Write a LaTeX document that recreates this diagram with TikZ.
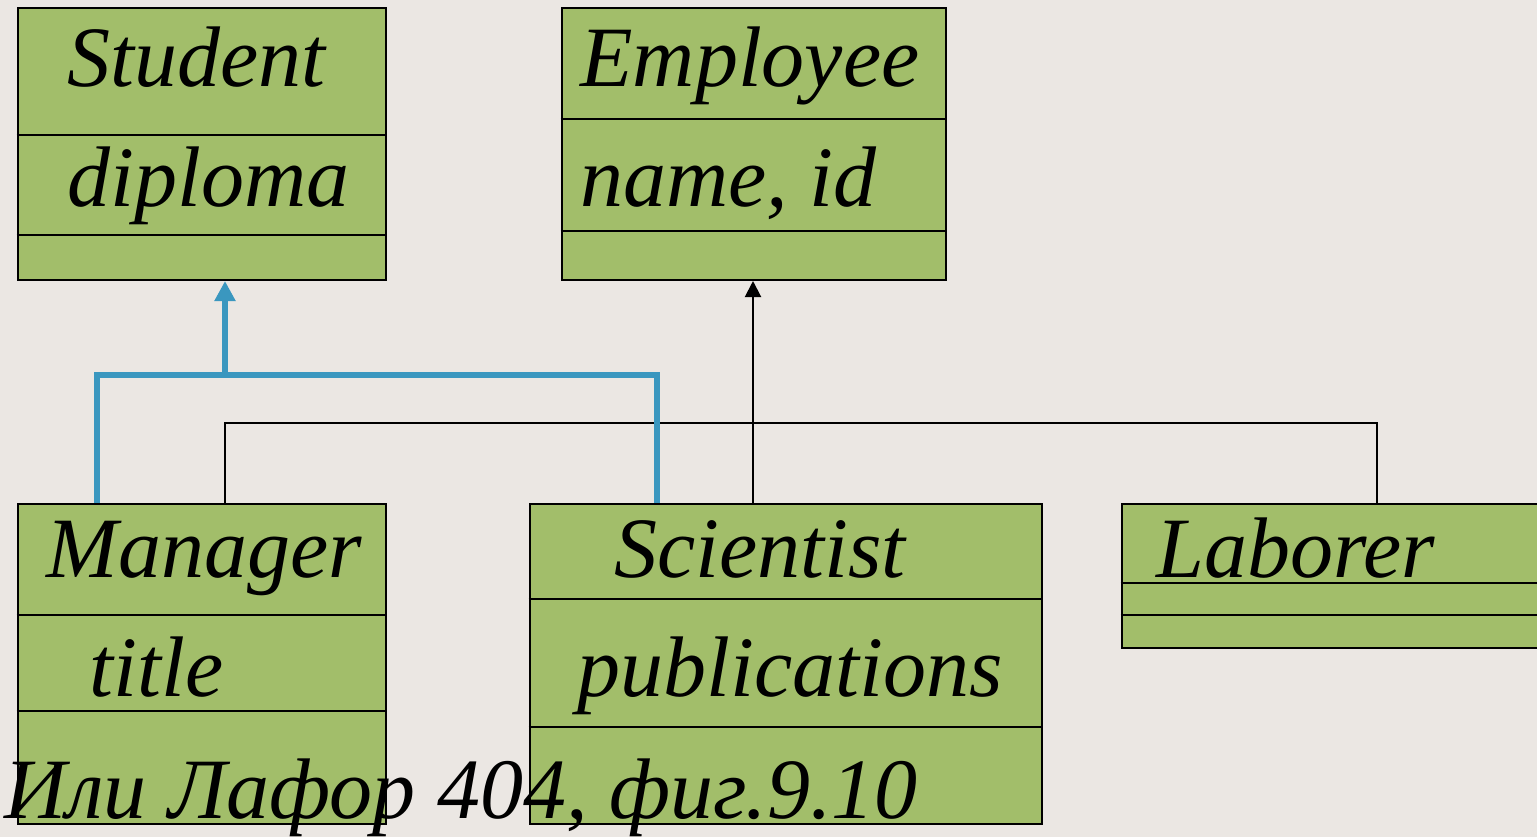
\documentclass[tikz,border=0pt]{standalone}
\usepackage{fontspec}
\setmainfont{Liberation Serif}
\usepackage{xcolor}
\usetikzlibrary{arrows.meta, positioning}

\definecolor{bgcol}{RGB}{235,231,227}
\definecolor{boxgreen}{RGB}{162,190,106}
\definecolor{linkblue}{RGB}{58,151,191}

\tikzset{
  classbox/.style={draw=black, line width=1pt, fill=boxgreen, anchor=north west, inner sep=0pt},
  classtext/.style={anchor=base west, inner sep=0pt, font=\fontsize{43}{50}\selectfont\itshape},
  divider/.style={draw=black, line width=1pt},
  genlink/.style={draw=black, line width=1pt},
  bluelink/.style={draw=linkblue, line width=2.7pt}
}

\begin{document}
\begin{tikzpicture}[x=0.5pt, y=-0.5pt]
  % Background
  \fill[bgcol] (0,0) rectangle (1537,837);
  \useasboundingbox (0,0) rectangle (1537,837);

  % Top classes
  \node[classbox, minimum width=184pt, minimum height=136pt] (student) at (16.5,7) {};
  \draw[divider] (16.5,135) -- (384.5,135);
  \draw[divider] (16.5,235) -- (384.5,235);
  \node[classtext] (studentname) at (67,86) {Student};
  \node[classtext] (studentattr) at (67,206) {diploma};

  \node[classbox, minimum width=192pt, minimum height=136pt] (employee) at (560.5,7) {};
  \draw[divider] (560.5,119) -- (944.5,119);
  \draw[divider] (560.5,231) -- (944.5,231);
  \node[classtext] (employeename) at (580,86) {Employee};
  \node[classtext] (employeeattr) at (580,206) {name, id};

  % Bottom classes
  \node[classbox, minimum width=184pt, minimum height=160pt] (manager) at (16.5,503) {};
  \draw[divider] (16.5,615) -- (384.5,615);
  \draw[divider] (16.5,711) -- (384.5,711);
  \node[classtext] (managername) at (46,577) {Manager};
  \node[classtext] (managerattr) at (89,696) {title};

  \node[classbox, minimum width=256pt, minimum height=160pt] (scientist) at (528.5,503) {};
  \draw[divider] (528.5,599) -- (1040.5,599);
  \draw[divider] (528.5,727) -- (1040.5,727);
  \node[classtext] (scientistname) at (614,577) {Scientist};
  \node[classtext] (scientistattr) at (577,696) {publications};

  \node[classbox, minimum width=208pt, minimum height=72pt] (laborer) at (1120.5,503) {};
  \draw[divider] (1120.5,583) -- (1536.5,583);
  \draw[divider] (1120.5,615) -- (1536.5,615);
  \node[classtext] (laborername) at (1156,577) {Laborer};

  % Generalisation to Employee
  \coordinate (jleft) at (225,423);
  \coordinate (jright) at (1377,423);
  \coordinate (jemp) at (753,423);
  \draw[genlink] (jleft |- manager.north) -- (jleft) -- (jright) -- (jright |- laborer.north);
  \draw[genlink, -{Triangle[length=8pt, width=8pt]}] (jemp |- scientist.north) -- (jemp |- employee.south);

  % Generalisation to Student
  \coordinate (bman) at (97,375);
  \coordinate (bsci) at (657,375);
  \coordinate (bstud) at (225,375);
  \draw[bluelink] (bman |- manager.north) -- (bman) -- (bsci) -- (bsci |- scientist.north);
  \draw[bluelink, -{Triangle[length=10pt, width=10pt]}] (bstud) -- (bstud |- student.south);

  % Caption
  \node[classtext] (caption) at (4,818) {Или Лафор 404, фиг.9.10};
\end{tikzpicture}
\end{document}
